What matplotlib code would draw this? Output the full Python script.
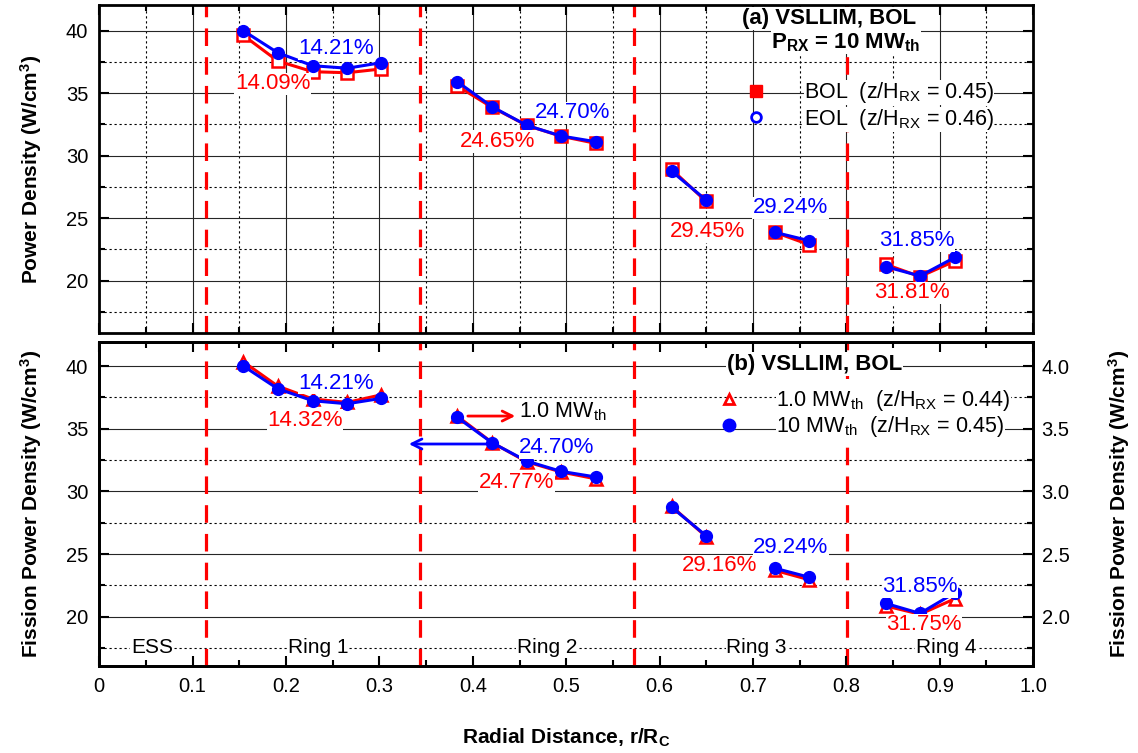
import matplotlib
matplotlib.use("Agg")
import matplotlib.pyplot as plt
from matplotlib.lines import Line2D
from matplotlib.ticker import MultipleLocator, FormatStrFormatter

plt.rcParams['font.family'] = ['Liberation Sans', 'DejaVu Sans']
plt.rcParams['mathtext.fontset'] = 'custom'
plt.rcParams['mathtext.rm'] = 'Liberation Sans'
plt.rcParams['mathtext.it'] = 'Liberation Sans:italic'
plt.rcParams['mathtext.bf'] = 'Liberation Sans:bold'

# radial position (r/Rc) of each fuel element, grouped as they are joined by lines
r_groups = [
    [0.1543, 0.1911, 0.2286, 0.2656, 0.3017],
    [0.3834, 0.4206, 0.4577, 0.4944, 0.5316],
    [0.6130, 0.6497],
    [0.7235, 0.7603],
    [0.8424, 0.8788, 0.9163],
]

# (a) 10 MWth power density, W/cm3
bol = [
    [39.63, 37.58, 36.72, 36.64, 36.94],
    [35.58, 33.87, 32.43, 31.56, 30.99],
    [28.90, 26.35],
    [23.87, 22.88],
    [21.30, 20.33, 21.58],
]
eol = [
    [40.00, 38.24, 37.20, 37.00, 37.44],
    [35.92, 33.92, 32.43, 31.58, 31.12],
    [28.75, 26.46],
    [23.87, 23.20],
    [21.12, 20.38, 21.87],
]

# (b) fission power density at BOL: 10 MWth (left axis) and 1.0 MWth (right axis)
p10 = [
    [40.00, 38.19, 37.23, 36.99, 37.42],
    [35.90, 33.88, 32.42, 31.60, 31.15],
    [28.73, 26.47],
    [23.87, 23.15],
    [21.06, 20.27, 21.92],
]
p1 = [
    [4.034, 3.840, 3.737, 3.710, 3.770],
    [3.600, 3.390, 3.236, 3.155, 3.100],
    [2.880, 2.640],
    [2.370, 2.295],
    [2.086, 2.020, 2.144],
]

# ring boundaries (r/Rc)
ring_edges = [0.1143, 0.3437, 0.5730, 0.8010]
ring_names = ['ESS', 'Ring 1', 'Ring 2', 'Ring 3', 'Ring 4']
ring_name_x = [0.0565, 0.2343, 0.4795, 0.7040, 0.9066]

# power peaking per ring
pk_bol = ['14.09%', '24.65%', '29.45%', '31.81%']
pk_eol = ['14.21%', '24.70%', '29.24%', '31.85%']
pk_p1 = ['14.32%', '24.77%', '29.16%', '31.75%']
pk_p10 = ['14.21%', '24.70%', '29.24%', '31.85%']

# where the peaking labels sit
pos_bol = [(0.1855, 35.74), (0.4264, 31.15), (0.6518, 23.90), (0.8702, 19.02)]
pos_eol = [(0.2535, 38.58), (0.5073, 33.42), (0.7401, 25.82), (0.8756, 23.18)]
pos_p1 = [(0.2203, 35.69), (0.4470, 30.67), (0.6647, 24.05), (0.8831, 19.35)]
pos_p10 = [(0.2535, 38.62), (0.4901, 33.50), (0.7406, 25.49), (0.8788, 22.42)]

RED = '#ff0000'
BLUE = '#0000ff'
white = dict(facecolor='white', edgecolor='none', pad=0.5)


def style_axes(ax, grid=True):
    ax.set_xlim(0, 1.0)
    ax.xaxis.set_major_locator(MultipleLocator(0.1))
    ax.xaxis.set_minor_locator(MultipleLocator(0.05))
    ax.yaxis.set_major_locator(MultipleLocator(5))
    ax.yaxis.set_minor_locator(MultipleLocator(2.5))
    ax.tick_params(which='both', direction='in', top=True, right=True,
                   labelsize=14.5, width=1.5)
    ax.tick_params(which='major', length=7, pad=8)
    ax.tick_params(which='minor', length=4)
    for s in ax.spines.values():
        s.set_linewidth(2.0)
    if grid:
        ax.set_axisbelow(True)
        ax.grid(which='major', ls='-', color='0.15', lw=0.8)
        ax.grid(which='minor', ls=(0, (2, 2.5)), color='k', lw=0.8)


def ring_lines(ax):
    for xe in ring_edges:
        ax.axvline(xe, color=RED, lw=2.3, dashes=(5.5, 3.5), zorder=1.5)


def peak_labels(ax, texts, pos, color):
    for t, (x, y) in zip(texts, pos):
        ax.text(x, y, t, color=color, fontsize=16, ha='center', va='center',
                bbox=white, zorder=6)


fig = plt.figure(figsize=(11.38, 7.53), dpi=100)

# ---- (a) BOL vs EOL ----
ax1 = fig.add_axes([0.0872, 0.5578, 0.8207, 0.4356])
style_axes(ax1)
ax1.set_ylim(15.82, 42.06)
ax1.tick_params(labelbottom=False)
ring_lines(ax1)
for r, y in zip(r_groups, bol):
    ax1.plot(r, y, '-s', color=RED, lw=2.2, ms=9, mfc='white', mec=RED,
             mew=1.8, zorder=3)
for r, y in zip(r_groups, eol):
    ax1.plot(r, y, '-o', color=BLUE, lw=2.2, ms=8.5, zorder=4)
peak_labels(ax1, pk_bol, pos_bol, RED)
peak_labels(ax1, pk_eol, pos_eol, BLUE)
ax1.set_ylabel(r'Power Density (W/cm$^\mathbf{3}$)', fontsize=15,
               fontweight='bold', labelpad=16)
ax1.text(0.7815, 0.959, '(a) VSLLIM, BOL', transform=ax1.transAxes,
         fontsize=16, fontweight='bold', ha='center', va='center',
         bbox=white, zorder=6)
ax1.text(0.7995, 0.886, r'P$_{\mathbf{RX}}$ = 10 MW$_{\mathbf{th}}$',
         transform=ax1.transAxes, fontsize=16, fontweight='bold',
         ha='center', va='center', bbox=white, zorder=6)
h1 = [Line2D([], [], ls='none', marker='s', color=RED, ms=9),
      Line2D([], [], ls='none', marker='o', mfc='white', mec=BLUE, mew=2, ms=7)]
leg1 = ax1.legend(h1, [r'BOL  (z/H$_{\rm RX}$ = 0.45)',
                       r'EOL  (z/H$_{\rm RX}$ = 0.46)'],
                  loc='center left', bbox_to_anchor=(0.692, 0.692),
                  frameon=False, fontsize=15.5, handlelength=1.0,
                  handletextpad=1.7, labelspacing=0.05, borderpad=0,
                  borderaxespad=0)
for t in leg1.get_texts():
    t.set_bbox(dict(facecolor='white', edgecolor='none', pad=0))
leg1.set_zorder(6)

# ---- (b) 1.0 MWth vs 10 MWth ----
ax2 = fig.add_axes([0.0872, 0.1155, 0.8207, 0.4307])
ax2r = ax2.twinx()
ax2r.set_zorder(ax2.get_zorder() - 1)
ax2.patch.set_visible(False)
ax2r.patch.set_visible(True)
ax2r.patch.set_facecolor('white')

style_axes(ax2, grid=False)
style_axes(ax2r)
ax2.set_ylim(16.07, 41.94)
ax2r.set_ylim(1.607, 4.194)
ax2r.yaxis.set_major_locator(MultipleLocator(0.5))
ax2r.yaxis.set_minor_locator(MultipleLocator(0.25))
ax2r.yaxis.set_major_formatter(FormatStrFormatter('%.1f'))
ax2.set_xticks([0, 0.1, 0.2, 0.3, 0.4, 0.5, 0.6, 0.7, 0.8, 0.9, 1.0])
ax2.set_xticklabels(['0', '0.1', '0.2', '0.3', '0.4', '0.5', '0.6', '0.7',
                     '0.8', '0.9', '1.0'])
ax2.tick_params(right=False, labelright=False)
ax2r.tick_params(left=False, labelleft=False, right=True, labelright=True,
                 labelbottom=False)
ax2r.tick_params(axis='y', which='major', pad=6)

ring_lines(ax2)
for r, y in zip(r_groups, p1):
    ax2r.plot(r, y, '-^', color=RED, lw=2.2, ms=9, mfc='white', mec=RED,
              mew=1.8, zorder=3)
for r, y in zip(r_groups, p10):
    ax2.plot(r, y, '-o', color=BLUE, lw=2.2, ms=8.5, zorder=4)
peak_labels(ax2, pk_p1, pos_p1, RED)
peak_labels(ax2, pk_p10, pos_p10, BLUE)

for name, x in zip(ring_names, ring_name_x):
    ax2.text(x, 17.55, name, fontsize=15, ha='center', va='center',
             bbox=white, zorder=6)

# arrows tying each series to its own axis
ax2.annotate('', xy=(0.4484, 36.01), xytext=(0.3917, 36.01),
             arrowprops=dict(arrowstyle='->', color=RED, lw=2,
                             mutation_scale=18), zorder=5)
ax2.text(0.4494, 35.90, r'1.0 MW$_{\rm th}$', fontsize=15.5, ha='left',
         va='baseline', bbox=white, zorder=6)
ax2.annotate('', xy=(0.3285, 33.78), xytext=(0.4206, 33.78),
             arrowprops=dict(arrowstyle='->', color=BLUE, lw=2,
                             mutation_scale=18), zorder=5)

ax2.text(0.7656, 0.929, '(b) VSLLIM, BOL', transform=ax2.transAxes,
         fontsize=16, fontweight='bold', ha='center', va='center',
         bbox=white, zorder=6)
h2 = [Line2D([], [], ls='none', marker='^', mfc='white', mec=RED, mew=2, ms=7),
      Line2D([], [], ls='none', marker='o', color=BLUE, ms=9)]
leg2 = ax2.legend(h2, [r'1.0 MW$_{\rm th}$  (z/H$_{\rm RX}$ = 0.44)',
                       r'10 MW$_{\rm th}$  (z/H$_{\rm RX}$ = 0.45)'],
                  loc='center left', bbox_to_anchor=(0.6623, 0.778),
                  frameon=False, fontsize=15.5, handlelength=1.0,
                  handletextpad=1.7, labelspacing=0.05, borderpad=0,
                  borderaxespad=0)
for t in leg2.get_texts():
    t.set_bbox(dict(facecolor='white', edgecolor='none', pad=0))
leg2.set_zorder(6)

ax2.set_ylabel(r'Fission Power Density (W/cm$^\mathbf{3}$)', fontsize=15,
               fontweight='bold', labelpad=16)
ax2r.set_ylabel(r'Fission Power Density (W/cm$^\mathbf{3}$)', fontsize=15,
                fontweight='bold', labelpad=26)
ax2.set_xlabel(r'Radial Distance, r/R$_\mathbf{C}$', fontsize=15,
               fontweight='bold', labelpad=22)

fig.savefig('out.png', dpi=100)
